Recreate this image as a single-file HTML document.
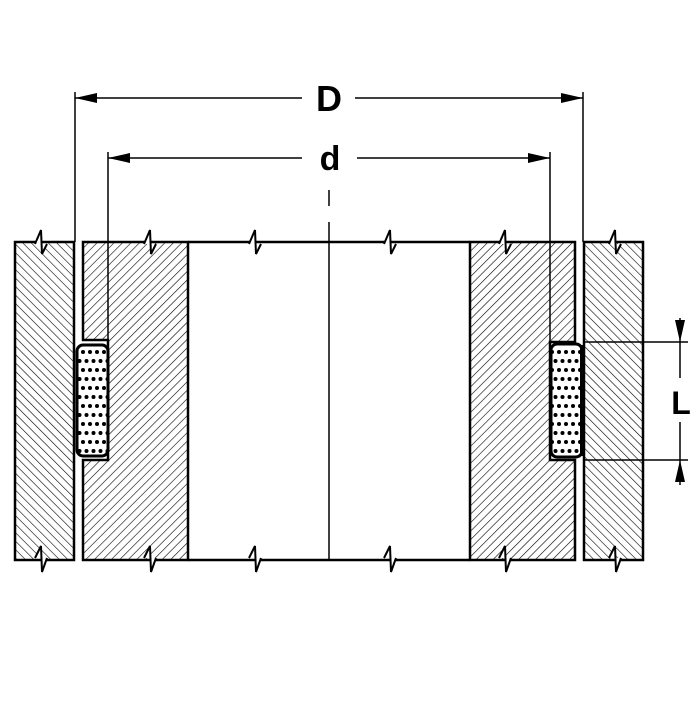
<!DOCTYPE html>
<html><head><style>html,body{margin:0;padding:0;background:#fff}</style></head>
<body>
<svg width="700" height="700" viewBox="0 0 700 700" xmlns="http://www.w3.org/2000/svg">
<defs>
<pattern id="hb" patternUnits="userSpaceOnUse" width="6" height="6" patternTransform="rotate(-45)">
<line x1="0" y1="0" x2="0" y2="6" stroke="#000" stroke-width="1.2"/></pattern>
<pattern id="hf" patternUnits="userSpaceOnUse" width="6" height="6" patternTransform="rotate(45)">
<line x1="0" y1="0" x2="0" y2="6" stroke="#000" stroke-width="1.2"/></pattern>
<pattern id="dots" patternUnits="userSpaceOnUse" width="14" height="18" x="79" y="348">
<circle cx="4" cy="4" r="2" fill="#000"/><circle cx="11" cy="4" r="2" fill="#000"/>
<circle cx="7.5" cy="13" r="2" fill="#000"/><circle cx="0.5" cy="13" r="2" fill="#000"/><circle cx="14.5" cy="13" r="2" fill="#000"/></pattern>
</defs>
<g stroke="#000" fill="none">
<rect x="15" y="242" width="59" height="318" fill="url(#hb)" stroke-width="2.5"/>
<path d="M83,242 H188 V560 H83 V460 H108 V340 H83 Z" fill="url(#hf)" stroke-width="2.5"/>
<path d="M470,242 H575 V342 H550 V460 H575 V560 H470 Z" fill="url(#hf)" stroke-width="2.5"/>
<rect x="584" y="242" width="59" height="318" fill="url(#hb)" stroke-width="2.5"/>
<line x1="188" y1="242" x2="470" y2="242" stroke-width="2.5"/>
<line x1="188" y1="560" x2="470" y2="560" stroke-width="2.5"/>
<rect x="77" y="345" width="31" height="111" rx="6" fill="#fff" stroke-width="3"/>
<rect x="78" y="346" width="29" height="109" rx="6" fill="url(#dots)" stroke="none"/>
<rect x="551" y="344" width="31" height="113" rx="6" fill="#fff" stroke-width="3"/>
<rect x="552" y="345" width="29" height="111" rx="6" fill="url(#dots)" stroke="none"/>
<line x1="582" y1="345" x2="582" y2="456" stroke-width="4"/>
<g stroke-width="1.5">
<line x1="75" y1="92" x2="75" y2="242"/>
<line x1="108" y1="152" x2="108" y2="340"/>
<line x1="583" y1="92" x2="583" y2="242"/>
<line x1="550" y1="152" x2="550" y2="342"/>
<line x1="75" y1="98" x2="302" y2="98"/>
<line x1="355" y1="98" x2="583" y2="98"/>
<line x1="108" y1="158" x2="302" y2="158"/>
<line x1="357" y1="158" x2="550" y2="158"/>
<line x1="584" y1="342" x2="688" y2="342"/>
<line x1="584" y1="460" x2="688" y2="460"/>
<line x1="680" y1="318" x2="680" y2="378"/>
<line x1="680" y1="422" x2="680" y2="485"/>
<line x1="329" y1="190" x2="329" y2="206"/>
<line x1="329" y1="222" x2="329" y2="560"/>
</g>
<g stroke-width="2" fill="#fff">
<path d="M35,244 L41,230 L42,254 L47,244"/>
<path d="M144,244 L150,230 L151,254 L156,244"/>
<path d="M249,244 L255,230 L256,254 L261,244"/>
<path d="M384,244 L390,230 L391,254 L396,244"/>
<path d="M499,244 L505,230 L506,254 L511,244"/>
<path d="M609,244 L615,230 L616,254 L621,244"/>
<path d="M35,558 L41,546 L42,572 L47,558"/>
<path d="M144,558 L150,546 L151,572 L156,558"/>
<path d="M249,558 L255,546 L256,572 L261,558"/>
<path d="M384,558 L390,546 L391,572 L396,558"/>
<path d="M499,558 L505,546 L506,572 L511,558"/>
<path d="M609,558 L615,546 L616,572 L621,558"/>
</g>
</g>
<g fill="#000">
<polygon points="75,98 97,93 97,103"/>
<polygon points="583,98 561,93 561,103"/>
<polygon points="108,158 130,153 130,163"/>
<polygon points="550,158 528,153 528,163"/>
<polygon points="680,342 675,320 685,320"/>
<polygon points="680,460 675,482 685,482"/>
</g>
<g font-family="Liberation Sans, sans-serif" font-weight="bold" text-anchor="middle">
<text x="329" y="111" font-size="36">D</text>
<text x="330" y="170" font-size="34">d</text>
<text x="681" y="414" font-size="32">L</text>
</g>
</svg>
</body></html>
